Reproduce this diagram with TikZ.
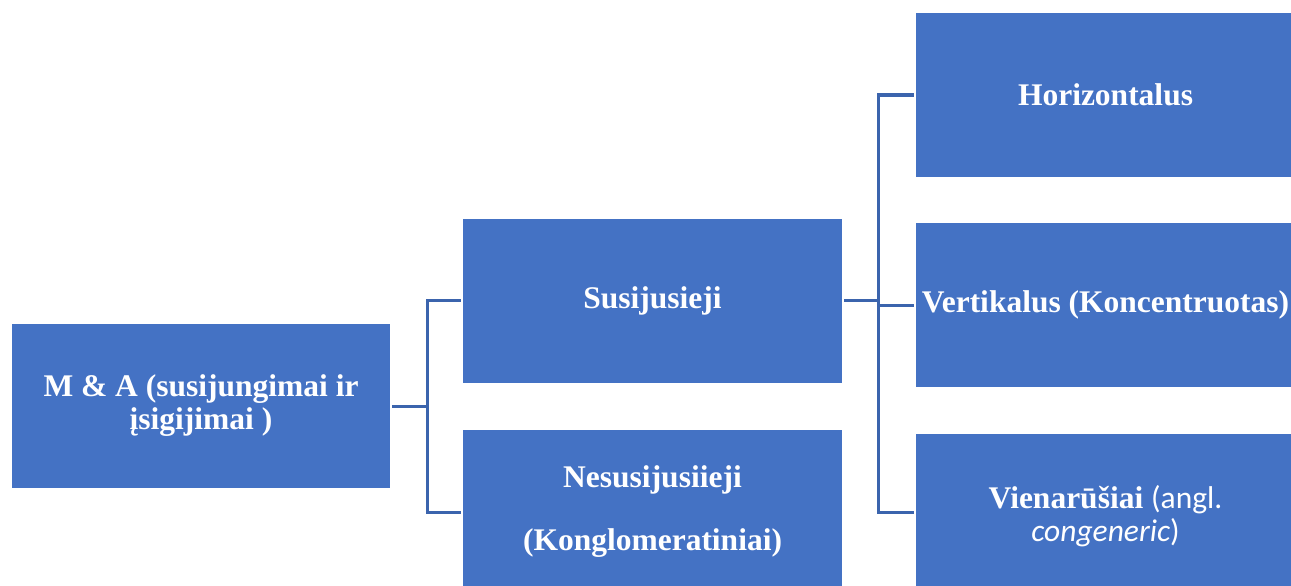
\documentclass[tikz,border=0pt]{standalone}
\usepackage{fontspec}
\setmainfont{Liberation Serif}
\newfontfamily\calibri{Carlito}
\definecolor{boxblue}{HTML}{4472C4}
\definecolor{lineblue}{HTML}{3B64AD}

\begin{document}
\begin{tikzpicture}[x=1pt, y=-1pt,
  box/.style={rectangle, fill=boxblue, text=white, minimum width=379pt, minimum height=164pt,
    inner sep=0pt, align=center, font=\fontsize{31.5}{33}\selectfont\bfseries},
  conn/.style={draw=lineblue, line width=3pt, shorten <=2pt, shorten >=2pt}]
\useasboundingbox (0,0) rectangle (1291,586);
\clip (0,0) rectangle (1291,586);

\node[box, minimum width=378pt] (ma) at (201,406) {M \& A (susijungimai ir\\ įsigijimai )};

\node[box] (susi) at (652.5,300.5) {Susijusieji};
\node[box] (nesusi) at (652.5,512) {Nesusijusiieji\\[30pt] (Konglomeratiniai)};

\node[box] (horiz) at (1105.5,95) {Horizontalus};
\node[box] (vert) at (1105.5,305) {Vertikalus (Koncentruotas)};
\node[box] (vien) at (1105.5,516)
  {Vienarūšiai {\calibri\mdseries (angl.}\\ {\calibri\mdseries\itshape congeneric}{\calibri\mdseries )}};

\draw[conn] (ma.east) -- ++(37,0) |- (susi.west);
\draw[conn] (ma.east) -- ++(37,0) |- (nesusi.west);

\draw[conn] (susi.east) -- ++(36,0) |- (horiz.west);
\draw[conn] (susi.east) -- ++(36,0) |- (vert.west);
\draw[conn] (susi.east) -- ++(36,0) |- ([yshift=4pt]vien.west);
\end{tikzpicture}
\end{document}
